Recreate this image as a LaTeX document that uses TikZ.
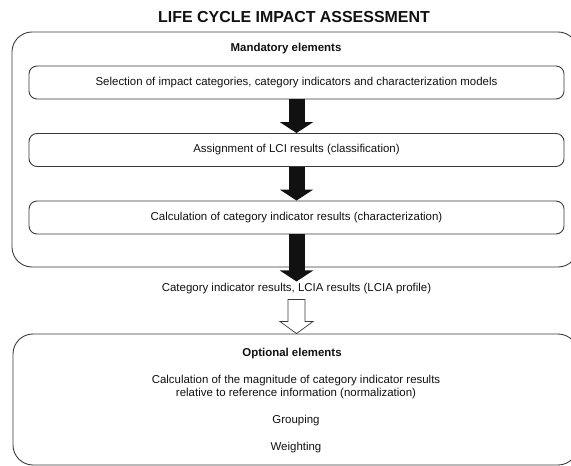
\documentclass[tikz,border=0pt]{standalone}
\usepackage{fontspec}
\setmainfont{Liberation Sans}
\usetikzlibrary{arrows.meta, calc}
\definecolor{ink}{HTML}{111111}
\definecolor{frame}{HTML}{3A3A3A}

\begin{document}
\begin{tikzpicture}[
    x=1bp, y=-1bp,
    panel/.style={
        draw=frame,
        line width=0.9pt,
        rounded corners=20bp,
    },
    stepbox/.style={
        draw=frame,
        line width=0.9pt,
        rounded corners=8bp,
        minimum width=535bp,
        minimum height=33bp,
        text=ink,
        font=\fontsize{11.5}{13}\selectfont,
    },
    plaintext/.style={
        text=ink,
        inner sep=2bp,
        font=\fontsize{11.5}{13}\selectfont,
    },
    headtext/.style={
        text=ink,
        inner sep=2bp,
        font=\fontsize{11.5}{13}\selectfont\bfseries,
    },
    blockarrow/.style={
        ink,
        line width=16bp,
        -{Triangle[length=11bp, width=33bp]},
    },
    hollowarrow/.style={
        draw=frame,
        fill=white,
        line width=0.7pt,
        line join=miter,
    },
]
\useasboundingbox (0,0) rectangle (571,466);
\clip (0,0) rectangle (571,466);

% Title
\node[text=ink, font=\fontsize{16}{18}\selectfont\bfseries] (title) at (294,17) {LIFE CYCLE IMPACT ASSESSMENT};

% =============================================
% MANDATORY ELEMENTS
% =============================================
\node[panel, minimum width=566bp, minimum height=235bp] (mandatory) at (295,149.5) {};
\node[headtext] (mandhead) at (286,49) {Mandatory elements};

\node[stepbox] (selection) at (296.5,82.5)
    {Selection of impact categories, category indicators and characterization models};
\node[stepbox] (assignment) at (296.5,150)
    {Assignment of LCI results (classification)};
\node[stepbox] (calculation) at (296.5,217.5)
    {Calculation of category indicator results (characterization)};

% Result of the mandatory part
\node[plaintext] (profile) at (296.5,289)
    {Category indicator results, LCIA results (LCIA profile)};

% =============================================
% OPTIONAL ELEMENTS
% =============================================
\node[panel, minimum width=565bp, minimum height=131bp] (optional) at (295.5,399.5) {};
\node[headtext] (opthead) at (292,354) {Optional elements};
\node[plaintext, align=center, font=\fontsize{11.5}{13.5}\selectfont] (normalization) at (296,387)
    {Calculation of the magnitude of category indicator results\\
     relative to reference information (normalization)};
\node[plaintext] (grouping) at (296,421) {Grouping};
\node[plaintext] (weighting) at (296,448) {Weighting};

% =============================================
% ARROWS
% =============================================
\draw[blockarrow] (selection.south) -- (assignment.north);
\draw[blockarrow] (assignment.south) -- (calculation.north);
\draw[blockarrow] (calculation.south) -- (profile.north);

% Hollow arrow: profile -> optional elements
\coordinate (hollowtop) at ($(profile.south)+(0,3)$);
\coordinate (hollowtip) at (profile.south |- optional.north);
\coordinate (hollowneck) at ($(hollowtip)+(0,-12)$);
\draw[hollowarrow]
    ($(hollowtop)+(-8.5,0)$) -- ($(hollowneck)+(-8.5,0)$) -- ($(hollowneck)+(-16.5,0)$)
    -- (hollowtip) -- ($(hollowneck)+(16.5,0)$) -- ($(hollowneck)+(8.5,0)$)
    -- ($(hollowtop)+(8.5,0)$) -- cycle;

\end{tikzpicture}
\end{document}
